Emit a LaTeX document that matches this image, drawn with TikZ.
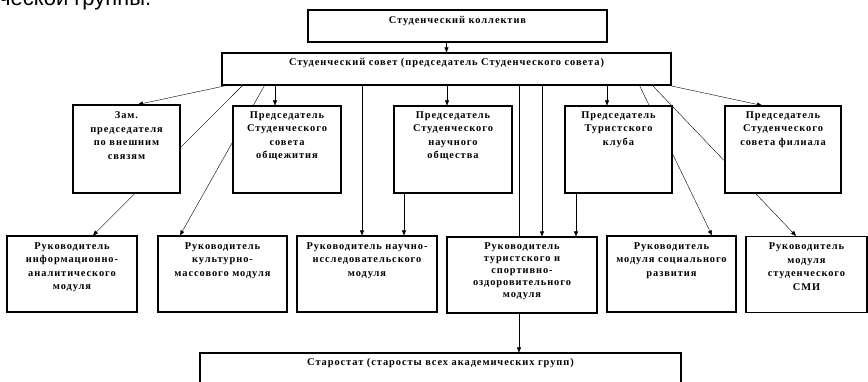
\documentclass[tikz,border=0pt]{standalone}
\usepackage{fontspec}
\setmainfont{Liberation Serif}
\newfontfamily\headfont{Liberation Sans}
\newfontfamily\boxfont[LetterSpace=9]{Liberation Serif}
\usepackage{tikz}
\usetikzlibrary{arrows.meta,positioning,backgrounds}

\begin{document}
\begin{tikzpicture}[x=1pt,y=-1pt]
	\useasboundingbox (0,0) rectangle (868,382);
	\node[anchor=base west,inner sep=0pt,font=\headfont\fontsize{22}{26}\selectfont] (head) at (-1,6) {ческой группы.};
	\begin{scope}[every node/.style={draw,fill=white,line width=1.1pt,inner sep=0pt}]
		\node[minimum width=299pt,minimum height=32pt] (coll) at (457.5,26) {};
		\node[minimum width=449pt,minimum height=32pt] (council) at (446.5,69) {};
		\node[minimum width=107pt,minimum height=88pt] (zam) at (126.5,149) {};
		\node[minimum width=108pt,minimum height=87pt] (obsh) at (287,149.5) {};
		\node[minimum width=118pt,minimum height=87pt] (nauch) at (453,149.5) {};
		\node[minimum width=107pt,minimum height=87pt] (turclub) at (618.5,149.5) {};
		\node[minimum width=116pt,minimum height=87pt] (filial) at (783,149.5) {};
		\node[minimum width=130pt,minimum height=76pt] (rinfo) at (72,274) {};
		\node[minimum width=129pt,minimum height=76pt] (rkult) at (222.5,274) {};
		\node[minimum width=140pt,minimum height=76pt] (rnauch) at (367,274) {};
		\node[minimum width=150pt,minimum height=76pt] (rtur) at (522,275) {};
		\node[minimum width=129pt,minimum height=76pt] (rsoc) at (671.5,274) {};
		\node[minimum width=121pt,minimum height=76pt] (rsmi) at (806.5,274.5) {};
		\node[minimum width=481pt,minimum height=60pt] (star) at (440.5,383) {};
	\end{scope}
	\begin{scope}[every node/.style={align=center,inner sep=0pt,font=\boxfont\bfseries\fontsize{10.4}{13.5}\selectfont}]
		\node[below=7pt of coll.north] (coll-t) {Студенческий коллектив};
		\node[below=6pt of council.north] (council-t) {Студенческий совет (председатель Студенческого совета)};
		\node[below=7pt of zam.north] (zam-t) {Зам.\\председателя\\по внешним\\связям};
		\node[below=6pt of obsh.north] (obsh-t) {Председатель\\Студенческого\\совета\\общежития};
		\node[below=6pt of nauch.north] (nauch-t) {Председатель\\Студенческого\\научного\\общества};
		\node[below=6pt of turclub.north] (turclub-t) {Председатель\\Туристского\\клуба};
		\node[below=6pt of filial.north] (filial-t) {Председатель\\Студенческого\\совета филиала};
		\node[below=7pt of rinfo.north] (rinfo-t) {Руководитель\\информационно-\\аналитического\\модуля};
		\node[below=7pt of rkult.north] (rkult-t) {Руководитель\\культурно-\\массового модуля};
		\node[below=7pt of rnauch.north] (rnauch-t) {Руководитель научно-\\исследовательского\\модуля};
		\node[below=6pt of rtur.north,font=\boxfont\bfseries\fontsize{10.4}{12}\selectfont] (rtur-t) {Руководитель\\туристского и\\спортивно-\\оздоровительного\\модуля};
		\node[below=7pt of rsoc.north] (rsoc-t) {Руководитель\\модуля социального\\развития};
		\node[below=7pt of rsmi.north] (rsmi-t) {Руководитель\\модуля\\студенческого\\СМИ};
		\node[below=6pt of star.north] (star-t) {Старостат (старосты всех академических групп)};
	\end{scope}
	\begin{scope}[on background layer,line width=0.6pt,>={Triangle[length=5pt,width=4pt]}]
		\draw[->] (coll.south -| council.north) -- (council.north);
		\draw[->] ([xshift=5pt]council.south west) -- ([xshift=11.5pt]zam.north);
		\draw[->] ([xshift=21pt]council.south west) -- ([xshift=21pt]rinfo.north);
		\draw[->] ([xshift=43pt]council.south west) -- ([xshift=-42.5pt]rkult.north);
		\draw[->] ([xshift=-12pt]obsh.north |- council.south) -- ([xshift=-12pt]obsh.north);
		\draw[->] ([xshift=-6pt]nauch.north |- council.south) -- ([xshift=-6pt]nauch.north);
		\draw[->] ([xshift=-5pt]rnauch.north |- council.south) -- ([xshift=-5pt]rnauch.north);
		\draw[->] ([xshift=-49pt]nauch.south) -- ([xshift=-49pt]nauch.south |- rnauch.north);
		\draw[->] ([xshift=78.5pt]star.north |- council.south) -- ([xshift=78.5pt]star.north);
		\draw[->] ([xshift=20pt]rtur.north |- council.south) -- ([xshift=20pt]rtur.north);
		\draw[->] ([xshift=-11.5pt]turclub.north |- council.south) -- ([xshift=-11.5pt]turclub.north);
		\draw[->] ([xshift=-42.5pt]turclub.south) -- ([xshift=-42.5pt]turclub.south |- rtur.north);
		\draw[->] ([xshift=-32pt]council.south east) -- ([xshift=40.5pt]rsoc.north);
		\draw[->] ([xshift=-19pt]council.south east) -- ([xshift=-10.5pt]rsmi.north);
		\draw[->] ([xshift=-2pt]council.south east) -- ([xshift=-21pt]filial.north);
	\end{scope}
\end{tikzpicture}
\end{document}
